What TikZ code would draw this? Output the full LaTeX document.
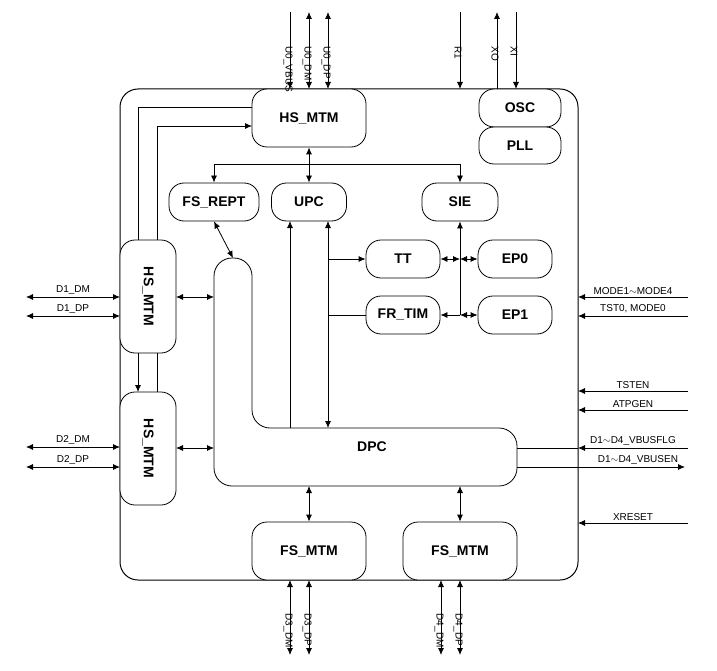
\documentclass[tikz,border=0pt]{standalone}
\usepackage{fontspec}
\setmainfont{Liberation Sans}
\usetikzlibrary{arrows.meta,positioning,calc}
\tikzset{>={Latex[length=7pt,width=6pt]}}

\begin{document}
\begin{tikzpicture}[x=1pt,y=-1pt,line width=0.8pt,
	blk/.style={draw,rounded corners=15pt,fill=white,font=\fontsize{14}{16}\selectfont\bfseries,inner sep=0pt},
	sig/.style={font=\fontsize{10}{12}\selectfont},
	sa/.style={->},
	da/.style={<->}]
		\useasboundingbox (0,0) rectangle (717,671);

		% Chip outline
		\draw[rounded corners=18pt,line width=1pt] (120,89) rectangle (578,580);

		% Top blocks
		\node[blk,minimum width=114pt,minimum height=58pt] (hs top) at (309,118) {HS\_MTM};
		\node[blk,minimum width=82pt,minimum height=38pt] (osc) at (520,108) {OSC};
		\node[blk,minimum width=82pt,minimum height=37pt] (pll) at (520,145.5) {PLL};
		\node[blk,minimum width=90pt,minimum height=38pt] (fsrept) at (214,202) {FS\_REPT};
		\node[blk,minimum width=75pt,minimum height=38pt] (upc) at (309,202) {UPC};
		\node[blk,minimum width=76pt,minimum height=38pt] (sie) at (460,202) {SIE};
		\node[blk,minimum width=74pt,minimum height=38pt] (tt) at (403,259) {TT};
		\node[blk,minimum width=74pt,minimum height=38pt] (ep0) at (515,259) {EP0};
		\node[blk,minimum width=74pt,minimum height=38pt] (frtim) at (403,315) {FR\_TIM};
		\node[blk,minimum width=74pt,minimum height=38pt] (ep1) at (515,315) {EP1};

		% DPC
		\draw[rounded corners=18pt] (214,258) -- (214,486) -- (517,486) -- (517,428) -- (252,428) -- (252,258) -- cycle;
		\node[font=\fontsize{14}{16}\selectfont\bfseries] (dpc) at (372,447) {DPC};
		\coordinate (dpc top) at (233,258);

		% Left ports
		\node[blk,minimum width=56pt,minimum height=113pt] (hs1) at (148,296.5) {};
		\node[rotate=-90,font=\fontsize{14}{16}\selectfont\bfseries] at (hs1) {HS\_MTM};
		\node[blk,minimum width=56pt,minimum height=113pt] (hs2) at (148,448.5) {};
		\node[rotate=-90,font=\fontsize{14}{16}\selectfont\bfseries] at (hs2) {HS\_MTM};

		% Bottom ports
		\node[blk,minimum width=114pt,minimum height=58pt] (fs3) at (309,551) {FS\_MTM};
		\node[blk,minimum width=114pt,minimum height=58pt] (fs4) at (460,551) {FS\_MTM};

		% Internal connections
		\draw[da] (hs top.south) -- (upc.north);
		\draw[sa] (309,164) -| (fsrept.north);
		\draw[sa] (309,164) -| (sie.north);
		\draw[da] (fsrept.south) -- (dpc top);
		\draw (138,240) -- (138,107) -- (252,107);
		\draw[sa] (157,240) -- (157,126) -- (252,126);
		\draw[sa] (138,353) -- (138,392);
		\draw (157,353) -- (157,392);
		\draw[da] (176,297) -- (214,297);
		\draw[da] (176,448) -- (214,448);
		\draw[sa] (290,428) -- (290,221);
		\draw[da] (328,428) -- (328,221);
		\draw[sa] (328,259) -- (tt.west);
		\draw (328,315) -- (frtim.west);
		\draw[sa] (460,315) -- (sie.south);
		\draw[da] (tt.east) -- (460,259);
		\draw[da] (460,259) -- (ep0.west);
		\draw[sa] (460,315) -- (frtim.east);
		\draw[da] (460,315) -- (ep1.west);
		\draw[da] (309,486) -- (fs3.north);
		\draw[da] (460,486) -- (fs4.north);

		% Top pins
		\draw[sa] (290,12) -- node[sig,rotate=-90,right=-2pt,pos=0.4] {U0\_VBUS} (290,89);
		\draw[da] (309,12) -- node[sig,rotate=-90,right=-2pt,pos=0.4] {U0\_DM} (309,89);
		\draw[da] (328,12) -- node[sig,rotate=-90,right=-2pt,pos=0.4] {U0\_DP} (328,89);
		\draw[sa] (460,12) -- node[sig,rotate=-90,right=-2pt,pos=0.4] {R1} (460,89);
		\draw[sa] (497,89) -- node[sig,rotate=-90,right=-2pt,pos=0.6] {XO} (497,12);
		\draw[sa] (516,12) -- node[sig,rotate=-90,right=-2pt,pos=0.4] {XI} (516,89);

		% Left pins
		\draw[da] (26,297) -- node[sig,above=-1pt] {D1\_DM} (120,297);
		\draw[da] (26,316) -- node[sig,above=-1pt] {D1\_DP} (120,316);
		\draw[da] (26,447) -- node[sig,above=-1pt] {D2\_DM} (120,447);
		\draw[da] (26,467) -- node[sig,above=-1pt] {D2\_DP} (120,467);

		% Bottom pins
		\draw[da] (290,580) -- node[sig,rotate=-90,right=-2pt,pos=0.4] {D3\_DM} (290,655);
		\draw[da] (309,580) -- node[sig,rotate=-90,right=-2pt,pos=0.4] {D3\_DP} (309,655);
		\draw[da] (441,580) -- node[sig,rotate=-90,right=-2pt,pos=0.4] {D4\_DM} (441,655);
		\draw[da] (460,580) -- node[sig,rotate=-90,right=-2pt,pos=0.4] {D4\_DP} (460,655);

		% Right pins
		\draw[sa] (688,297) -- node[sig,above=-1pt] {MODE1$\sim$MODE4} (578,297);
		\draw[sa] (688,316) -- node[sig,above=-1pt] {TST0, MODE0} (578,316);
		\draw[sa] (688,391) -- node[sig,above=-1pt] {TSTEN} (578,391);
		\draw[sa] (688,410) -- node[sig,above=-1pt] {ATPGEN} (578,410);
		\draw[sa] (688,448) -- node[sig,above=-1pt] {D1$\sim$D4\_VBUSFLG} (578,448);
		\draw (578,448) -- (517,448);
		\draw[sa] (517,467) -- node[sig,above=-1pt,pos=0.72] {D1$\sim$D4\_VBUSEN} (685,467);
		\draw[sa] (688,523) -- node[sig,above=-1pt] {XRESET} (578,523);
	\end{tikzpicture}
\end{document}
